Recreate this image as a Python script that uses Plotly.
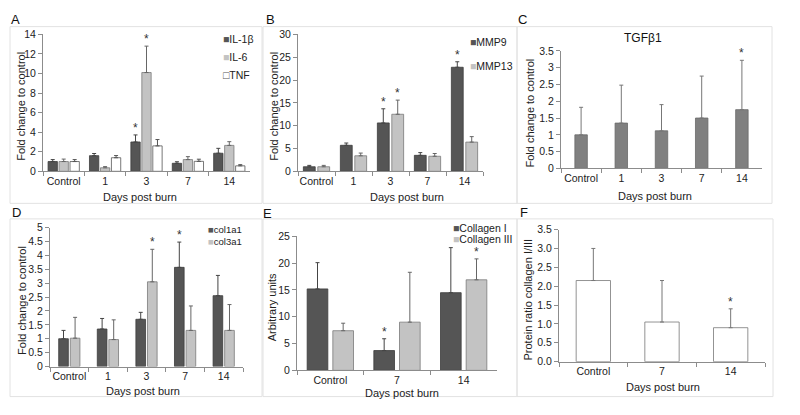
import plotly.graph_objects as go

FONT = "Liberation Sans, Arial, sans-serif"

# ---------------- data ----------------
days5 = ["Control", "1", "3", "7", "14"]
days3 = ["Control", "7", "14"]

# Panel A
il1b = [1.0, 1.6, 3.0, 0.82, 1.85]
il1b_sd = [0.2, 0.22, 0.72, 0.16, 0.5]
il6 = [1.0, 0.36, 10.1, 1.2, 2.65]
il6_sd = [0.25, 0.12, 2.7, 0.3, 0.38]
tnf = [1.0, 1.39, 2.6, 1.02, 0.56]
tnf_sd = [0.2, 0.22, 0.65, 0.22, 0.12]
il1b_sig = [0, 0, 1, 0, 0]
il6_sig = [0, 0, 1, 0, 0]
tnf_sig = [0, 0, 0, 0, 0]

# Panel B
mmp9 = [1.0, 5.7, 10.6, 3.5, 22.8]
mmp9_sd = [0.3, 0.5, 3.1, 0.6, 1.2]
mmp13 = [1.0, 3.4, 12.5, 3.3, 6.4]
mmp13_sd = [0.3, 0.6, 3.1, 0.6, 1.2]
mmp9_sig = [0, 0, 1, 0, 1]
mmp13_sig = [0, 0, 1, 0, 0]

# Panel C
tgfb1 = [1.0, 1.35, 1.12, 1.5, 1.75]
tgfb1_sd = [0.82, 1.13, 0.78, 1.25, 1.47]
tgfb1_sig = [0, 0, 0, 0, 1]

# Panel D
col1a1 = [1.0, 1.35, 1.7, 3.57, 2.55]
col1a1_sd = [0.3, 0.38, 0.25, 0.91, 0.73]
col3a1 = [1.02, 0.97, 3.05, 1.3, 1.3]
col3a1_sd = [0.75, 0.71, 1.17, 0.88, 0.93]
col1a1_sig = [0, 0, 0, 1, 0]
col3a1_sig = [0, 0, 1, 0, 0]

# Panel E
collagen1 = [15.2, 3.7, 14.5]
collagen1_sd = [4.9, 2.2, 8.4]
collagen3 = [7.4, 9.0, 16.9]
collagen3_sd = [1.4, 9.3, 3.9]
collagen1_sig = [0, 1, 0]
collagen3_sig = [0, 0, 1]

# Panel F
ratio = [2.15, 1.05, 0.9]
ratio_sd = [0.85, 1.1, 0.5]
ratio_sig = [0, 0, 1]

# ---------------- styles ----------------
DARK = "#555555"
LIGHT = "#c3c3c3"
WHITE = "#ffffff"
MID = "#808080"
AXC = "#8c8c8c"
TXT = "#222222"
W, H = 800, 415
OFF = 8  # page body margin of the browser


def sx(px):
    return (px - OFF) / W


def sy(py):
    return 1 - (py - OFF) / H


panels = {
    # name: (axis id, x px range, y px range (top, bottom))
    "A": ("", (43, 250), (29, 170)),
    "B": ("2", (298, 483), (29, 170)),
    "C": ("3", (561, 762), (46, 167)),
    "D": ("4", (50, 243), (228, 371)),
    "E": ("5", (297, 497), (237, 375)),
    "F": ("6", (559, 765), (230, 366)),
}

fig = go.Figure()
annotations = []


def add_group(axid, cats, series, width, gap, legend_pos=None, legend_size=10.5,
              legend_step=18):
    k = len(series)
    groupw = k * width + (k - 1) * gap
    for j, (name, vals, sd, sig, fill, line, ecol, glyph) in enumerate(series):
        off = -groupw / 2 + j * (width + gap)
        fig.add_trace(go.Bar(
            x=cats, y=vals, name=name,
            width=width, offset=off,
            marker=dict(color=fill, line=dict(color=line, width=0.8)),
            error_y=dict(type="data", symmetric=False, array=sd,
                         arrayminus=[0] * len(vals), color=ecol,
                         thickness=1, width=2),
            xaxis="x" + axid, yaxis="y" + axid,
            showlegend=False,
        ))
        for i, s in enumerate(sig):
            if s:
                annotations.append(dict(
                    x=i + off + width / 2, y=vals[i] + sd[i],
                    xref="x" + axid, yref="y" + axid,
                    text="*", showarrow=False, yanchor="bottom", yshift=-2,
                    font=dict(family=FONT, size=12, color="#333")))
        if legend_pos is not None:
            lx, ly = legend_pos
            gcol = fill if glyph == "■" else line
            annotations.append(dict(
                text=f"<span style='color:{gcol}'>{glyph}</span>{name}",
                x=sx(lx), y=sy(ly + j * legend_step), xref="paper", yref="paper",
                xanchor="left", yanchor="middle", showarrow=False,
                font=dict(family=FONT, size=legend_size, color=TXT)))


add_group("", days5, [
    ("IL-1β", il1b, il1b_sd, il1b_sig, DARK, "#3c3c3c", "#444", "■"),
    ("IL-6", il6, il6_sd, il6_sig, LIGHT, "#7a7a7a", "#666", "■"),
    ("TNF", tnf, tnf_sd, tnf_sig, WHITE, "#555555", "#555", "□"),
], 0.225, 0.04, legend_pos=(221, 34), legend_step=18.5)

add_group("2", days5, [
    ("MMP9", mmp9, mmp9_sd, mmp9_sig, DARK, "#3c3c3c", "#444", "■"),
    ("MMP13", mmp13, mmp13_sd, mmp13_sig, LIGHT, "#7a7a7a", "#666", "■"),
], 0.32, 0.07, legend_pos=(468, 37), legend_step=25)

add_group("3", days5, [
    ("TGFβ1", tgfb1, tgfb1_sd, tgfb1_sig, MID, "#6a6a6a", "#777", "■"),
], 0.31, 0.0)

add_group("4", days5, [
    ("col1a1", col1a1, col1a1_sd, col1a1_sig, DARK, "#3c3c3c", "#444", "■"),
    ("col3a1", col3a1, col3a1_sd, col3a1_sig, LIGHT, "#7a7a7a", "#666", "■"),
], 0.25, 0.05, legend_pos=(206, 230), legend_size=9.5, legend_step=12)

add_group("5", days3, [
    ("Collagen I", collagen1, collagen1_sd, collagen1_sig, DARK, "#3c3c3c", "#444", "■"),
    ("Collagen III", collagen3, collagen3_sd, collagen3_sig, LIGHT, "#7a7a7a", "#666", "■"),
], 0.31, 0.075, legend_pos=(451, 228), legend_step=12)

add_group("6", days3, [
    ("Protein ratio collagen I/III", ratio, ratio_sd, ratio_sig, WHITE, "#777777", "#777", "□"),
], 0.5, 0.0)

# y max, dtick, y title, tick format, y-title x px, x-title (x px, y px)
axinfo = {
    "A": (14, 2, "Fold change to control", None, 21, (140, 196)),
    "B": (30, 5, "Fold change to control", None, 274, (407, 196)),
    "C": (3.5, 0.5, "Fold change to control", None, 530, (655, 195)),
    "D": (5, 0.5, "Fold change to control", None, 22, (143, 396)),
    "E": (25, 5, "Arbitrary units", None, 272, (402, 398)),
    "F": (3.5, 0.5, "Protein ratio collagen I/III", ".1f", 528, (663, 392)),
}

layout = {}
for key, (axid, (x0, x1), (y0, y1)) in panels.items():
    n = 5 if key in "ABCD" else 3
    ymax, dt, ytitle, fmt, ytx, (xtx, xty) = axinfo[key]
    layout["xaxis" + axid] = dict(
        domain=[sx(x0), sx(x1)], anchor="y" + axid, type="category",
        range=[-0.5, n - 0.5], showline=True, linecolor=AXC, linewidth=1,
        ticks="outside", tickson="boundaries", ticklen=4, tickcolor=AXC,
        tickangle=0,
        tickfont=dict(family=FONT, size=10.5, color=TXT),
        showgrid=False, zeroline=False,
    )
    ya = dict(
        domain=[sy(y1), sy(y0)], anchor="x" + axid, range=[0, ymax], dtick=dt, tick0=0,
        showline=True, linecolor=AXC, linewidth=1, ticks="outside",
        ticklen=4, tickcolor=AXC,
        tickfont=dict(family=FONT, size=10.5, color=TXT),
        showgrid=False, zeroline=False,
    )
    if fmt:
        ya["tickformat"] = fmt
    layout["yaxis" + axid] = ya
    # axis titles
    annotations.append(dict(text=ytitle, textangle=-90, x=sx(ytx), y=sy((y0 + y1) / 2 + 4),
                            xref="paper", yref="paper", showarrow=False,
                            xanchor="center", yanchor="middle",
                            font=dict(family=FONT, size=11, color=TXT)))
    annotations.append(dict(text="Days post burn", x=sx(xtx), y=sy(xty),
                            xref="paper", yref="paper", showarrow=False,
                            xanchor="center", yanchor="middle",
                            font=dict(family=FONT, size=11, color=TXT)))

# panel boxes
boxes = [(10, 21, 262, 203), (263, 21, 517, 203), (517, 21, 772, 203),
         (10, 219, 262, 402), (263, 219, 517, 402), (517, 219, 773, 402)]
shapes = [dict(type="rect", xref="paper", yref="paper",
               x0=sx(a), x1=sx(c), y0=sy(d), y1=sy(b),
               line=dict(color="#e2e2e2", width=1), layer="below")
          for a, b, c, d in boxes]

# panel letters
letters = [("A", 15, 14), ("B", 270, 14), ("C", 522, 14),
           ("D", 16, 212), ("E", 267, 213), ("F", 524, 212)]
for t, x, y in letters:
    annotations.append(dict(text=t, x=sx(x), y=sy(y), xref="paper", yref="paper",
                            showarrow=False, xanchor="center", yanchor="middle",
                            font=dict(family=FONT, size=13, color="#111")))
annotations.append(dict(text="TGFβ1", x=sx(643), y=sy(33), xref="paper", yref="paper",
                        showarrow=False, xanchor="center", yanchor="middle",
                        font=dict(family=FONT, size=12, color="#111")))

layout.update(
    width=W, height=H, margin=dict(l=0, r=0, t=0, b=0),
    paper_bgcolor="white", plot_bgcolor="white",
    barmode="overlay", shapes=shapes, annotations=annotations,
    showlegend=False, font=dict(family=FONT),
)
fig.update_layout(**layout)
fig.write_html("out.html")
